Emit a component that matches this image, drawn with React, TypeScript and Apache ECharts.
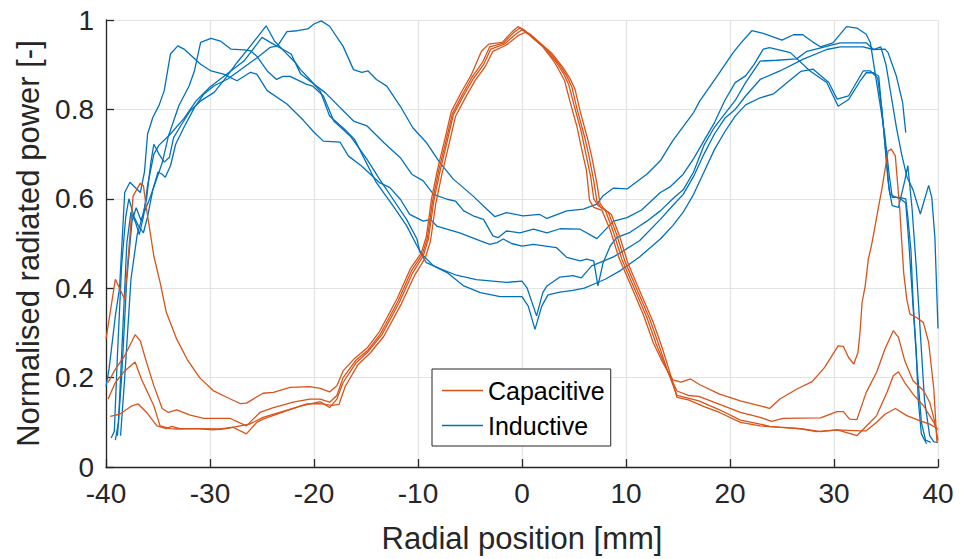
import React, { useEffect, useRef } from "react";
import * as echarts from "echarts";

type Pt = [number, number];

const LEGEND_NAMES = ["Capacitive", "Inductive"];
const X_MIN = -40;
const X_MAX = 40;
const X_STEP = 10;
const Y_MIN = 0;
const Y_MAX = 1;
const Y_STEP = 0.2;
const X_TITLE = "Radial position [mm]";
const Y_TITLE = "Normalised radiated power [-]";

// Inductive (blue) profiles: [radial position mm, normalised power]
const inductive1: Pt[] = [
  [-39.5,0.065],[-39.2,0.08],[-38.9,0.25],[-38.5,0.45],[-38.1,0.56],[-37.8,0.6],[-37.3,0.56],[-36.9,0.54],[-36.4,0.524],[-36,0.56],[-35.5,0.62],[-35,0.66],[-34.6,0.655],[-34.3,0.648],[-33.8,0.674],[-33.3,0.722],[-32.5,0.76],[-31.5,0.804],[-30.6,0.834],[-29.6,0.853],[-28.3,0.868],[-27,0.89],[-25.5,0.915],[-24.2,0.939],[-23.5,0.942],[-22.6,0.974],[-21.6,0.976],[-20.6,0.98],[-20,0.991],[-19.3,0.998],[-18.5,0.986],[-17.2,0.941],[-16.2,0.889],[-15.4,0.883],[-14.8,0.886],[-14,0.867],[-13,0.852],[-11.7,0.807],[-10.5,0.759],[-9.2,0.726],[-7.9,0.681],[-6.6,0.644],[-4.7,0.606],[-3.4,0.577],[-2.6,0.56],[-1.5,0.569],[0.1,0.562],[1.7,0.565],[2.4,0.556],[4.3,0.573],[5.9,0.577],[7.2,0.588],[7.8,0.607],[8.8,0.624],[10.1,0.622],[12,0.655],[13.3,0.685],[14.5,0.73],[16.5,0.793],[17.1,0.819],[18.7,0.872],[20.3,0.927],[21.1,0.95],[22.1,0.976],[23.2,0.97],[25,0.955],[26.1,0.967],[27,0.967],[28,0.95],[28.7,0.94],[29.9,0.949],[31.2,0.985],[32.2,0.982],[33.1,0.968],[33.5,0.949],[33.9,0.889],[34.4,0.816],[34.9,0.74],[35.3,0.655],[35.6,0.603],[36.3,0.603],[36.9,0.6],[37.1,0.559],[37.4,0.484],[37.6,0.372],[37.9,0.261],[38.1,0.15],[38.4,0.074],[38.9,0.052]
];
const inductive2: Pt[] = [
  [-39.1,0.06],[-38.8,0.1],[-38.4,0.3],[-38,0.5],[-37.6,0.57],[-37.2,0.55],[-36.8,0.52],[-36.4,0.56],[-36,0.63],[-35.4,0.7],[-34.9,0.72],[-33.8,0.745],[-32.5,0.78],[-31.3,0.82],[-30,0.85],[-28,0.886],[-26.7,0.909],[-25,0.961],[-24.2,0.95],[-22.2,0.924],[-21.3,0.88],[-18.9,0.837],[-16.2,0.774],[-14.9,0.763],[-13.3,0.726],[-11.7,0.692],[-10.6,0.655],[-9.5,0.64],[-8.5,0.61],[-7.2,0.599],[-6.4,0.595],[-5.6,0.573],[-4.7,0.562],[-3.7,0.554],[-2.8,0.517],[-2.3,0.513],[-1.5,0.528],[-0.2,0.524],[1.1,0.532],[2.4,0.524],[3.65,0.533],[5.6,0.532],[7.2,0.511],[8.8,0.55],[10.1,0.558],[11.5,0.575],[13.3,0.614],[14.2,0.626],[15.5,0.655],[16.5,0.69],[17.5,0.73],[18.5,0.77],[19.5,0.82],[20.5,0.86],[21.5,0.875],[22.3,0.9],[23.2,0.935],[23.8,0.938],[25.8,0.927],[27.7,0.886],[29.3,0.86],[30.4,0.807],[31.4,0.822],[32.5,0.863],[33.1,0.882],[33.8,0.882],[34.3,0.874],[34.6,0.8],[35,0.7],[35.3,0.62],[35.6,0.585],[36.2,0.581],[36.8,0.64],[37.1,0.674],[37.5,0.58],[37.9,0.45],[38.3,0.3],[38.7,0.15],[39.2,0.07],[39.6,0.056],[40,0.055]
];
const inductive3: Pt[] = [
  [-40,0.18],[-39.7,0.22],[-39.1,0.338],[-38.7,0.4],[-38.2,0.614],[-37.7,0.637],[-36.7,0.614],[-36.3,0.66],[-36,0.745],[-35.5,0.782],[-34.9,0.809],[-34.4,0.842],[-33.8,0.924],[-33.1,0.942],[-32.5,0.935],[-30.9,0.901],[-29.9,0.886],[-28.7,0.879],[-27.4,0.864],[-26.1,0.883],[-25.5,0.879],[-24.5,0.842],[-22.6,0.812],[-21,0.775],[-20,0.749],[-19.1,0.729],[-17.5,0.727],[-16.7,0.696],[-15.4,0.673],[-13.7,0.636],[-12.7,0.625],[-11.7,0.599],[-10.8,0.565],[-9.5,0.55],[-8.8,0.554],[-8.2,0.539],[-6,0.524],[-4,0.506],[-3.1,0.498],[-2.4,0.502],[-1.8,0.51],[-1,0.5],[0,0.494],[1.1,0.498],[3.3,0.491],[4.3,0.469],[5.6,0.461],[6.2,0.465],[6.9,0.461],[7.3,0.405],[7.8,0.457],[8.5,0.495],[9.1,0.513],[10.4,0.525],[11.3,0.539],[12,0.55],[13.3,0.573],[14.5,0.6],[15.5,0.62],[16.5,0.66],[17.5,0.72],[18.5,0.76],[19.5,0.79],[20.5,0.82],[21.5,0.86],[22.9,0.908],[24.5,0.91],[26.4,0.913],[27.4,0.93],[29.3,0.941],[30.6,0.949],[33.1,0.949],[33.8,0.934],[34.9,0.935],[35.2,0.927],[36,0.874],[36.6,0.815],[36.9,0.748]
];
const inductive4: Pt[] = [
  [-38.9,0.07],[-38.5,0.2],[-38,0.42],[-37.5,0.55],[-37.1,0.58],[-36.6,0.55],[-36.1,0.6],[-35.7,0.68],[-35.4,0.722],[-34.9,0.7],[-34.4,0.682],[-33.9,0.693],[-33.5,0.737],[-32.8,0.764],[-31.9,0.797],[-30.9,0.819],[-29.6,0.838],[-28.5,0.87],[-27.4,0.905],[-26.1,0.942],[-24.6,0.987],[-23.8,0.953],[-22.9,0.931],[-21.8,0.905],[-21.3,0.889],[-20.4,0.867],[-19.4,0.841],[-18.5,0.785],[-16.9,0.752],[-16.1,0.733],[-15.3,0.696],[-14,0.636],[-12.4,0.584],[-11.1,0.54],[-10.1,0.495],[-9.2,0.457],[-7.9,0.444],[-6.3,0.429],[-4.4,0.419],[-1.5,0.413],[0,0.416],[0.5,0.4],[1.4,0.338],[2,0.39],[2.4,0.405],[3.65,0.425],[4.9,0.428],[5.7,0.423],[6.7,0.45],[8.8,0.47],[11.3,0.506],[13.3,0.554],[14.5,0.585],[15.5,0.61],[16.5,0.65],[17.5,0.7],[18.5,0.745],[19.5,0.78],[20.5,0.8],[21.5,0.83],[22.9,0.867],[24.8,0.886],[27,0.912],[29.3,0.934],[30.6,0.94],[32.8,0.94],[33.8,0.934],[34.5,0.94],[35,0.9],[35.5,0.83],[36,0.76],[36.5,0.7],[37,0.65],[37.6,0.62],[38.3,0.566],[39.1,0.63],[39.4,0.603],[39.7,0.514],[40,0.31]
];
const inductive5: Pt[] = [
  [-38.6,0.07],[-38.2,0.2],[-37.6,0.42],[-37,0.52],[-36.5,0.56],[-35.8,0.6],[-35.2,0.64],[-34.6,0.68],[-34,0.74],[-33,0.808],[-32,0.853],[-31.5,0.886],[-30.9,0.95],[-29.9,0.959],[-29,0.953],[-28,0.935],[-26.7,0.933],[-26.1,0.931],[-25.5,0.919],[-24.5,0.886],[-23.6,0.867],[-23,0.874],[-22.3,0.874],[-21.7,0.867],[-20.7,0.856],[-20.1,0.852],[-19.1,0.83],[-18.1,0.774],[-16.5,0.74],[-14.9,0.688],[-13.7,0.644],[-12.4,0.599],[-11.1,0.554],[-10.1,0.51],[-9.8,0.48],[-8.5,0.45],[-7.2,0.435],[-5.6,0.405],[-4,0.39],[-2.1,0.381],[0,0.381],[0.6,0.36],[1.25,0.308],[1.9,0.36],[2.5,0.385],[3.65,0.391],[4.9,0.395],[6,0.4],[7,0.41],[8,0.42],[9.5,0.44],[11.3,0.47],[13.3,0.51],[14.5,0.54],[15.5,0.57],[16.5,0.61],[17.5,0.66],[18.5,0.71],[19.5,0.75],[20.5,0.785],[21.5,0.81],[22.9,0.826],[24.2,0.835],[25.5,0.86],[26.8,0.885],[28,0.89],[29.5,0.86],[30.3,0.823],[31.4,0.83],[32.8,0.886],[33.5,0.886],[34.2,0.87],[34.6,0.8],[34.9,0.72],[35.2,0.64],[35.4,0.61],[35.8,0.605],[36.4,0.6],[36.9,0.59],[37.2,0.5],[37.6,0.36],[38,0.22],[38.4,0.1],[38.8,0.06],[39.3,0.055]
];

// Capacitive (orange) profiles
const capacitive1: Pt[] = [
  [-40,0.286],[-39.1,0.42],[-38.7,0.4],[-38.2,0.375],[-37.7,0.517],[-37.4,0.606],[-36.7,0.635],[-36.4,0.629],[-36.1,0.577],[-35.4,0.472],[-34.8,0.413],[-34.2,0.346],[-33.2,0.286],[-32.2,0.241],[-31,0.2],[-29.7,0.171],[-28.4,0.156],[-27.1,0.142],[-26.5,0.143],[-24.9,0.165],[-23.9,0.167],[-22.3,0.178],[-20.4,0.18],[-19.4,0.176],[-18.5,0.168],[-17.8,0.182],[-17.2,0.215],[-16.1,0.243],[-14.9,0.266],[-13.7,0.303],[-12,0.377],[-10.7,0.445],[-9.7,0.478],[-9.2,0.515],[-8.7,0.6],[-8.1,0.668],[-7.4,0.735],[-6.8,0.795],[-5.8,0.84],[-4.9,0.876],[-3.9,0.93],[-3.2,0.946],[-1.9,0.95],[-0.9,0.975],[-0.4,0.985],[0.2,0.978],[1,0.96],[2,0.94],[3,0.91],[3.6,0.886],[4.1,0.864],[4.6,0.819],[5.3,0.76],[5.7,0.715],[6.2,0.663],[6.5,0.596],[6.9,0.581],[7.7,0.574],[8.5,0.529],[9.3,0.469],[10.4,0.41],[11.7,0.339],[12.6,0.279],[13.5,0.235],[14.5,0.195],[15.3,0.19],[16.2,0.197],[17.1,0.184],[19,0.163],[21,0.148],[22.9,0.137],[23.8,0.131],[24.8,0.152],[26.4,0.174],[27.9,0.191],[29.1,0.223],[30.4,0.271],[30.9,0.27],[31.4,0.245],[31.9,0.23],[32.3,0.256],[32.5,0.301],[32.7,0.368],[33,0.405],[33.3,0.465],[33.6,0.495],[33.9,0.532],[34.3,0.584],[34.6,0.621],[35.2,0.707],[35.5,0.711],[35.9,0.696],[36,0.666],[36.3,0.584],[36.7,0.435],[37,0.375],[37.3,0.342],[37.9,0.335],[38.6,0.323],[39.1,0.279],[39.6,0.174],[39.9,0.055]
];
const capacitive2: Pt[] = [
  [-39.8,0.189],[-39.1,0.219],[-38.2,0.249],[-37.2,0.296],[-36.7,0.282],[-36.1,0.234],[-35.4,0.182],[-34.6,0.131],[-34,0.122],[-33.2,0.128],[-31.9,0.116],[-30.6,0.109],[-28.1,0.109],[-26.5,0.092],[-25.2,0.122],[-23.9,0.133],[-22,0.145],[-20.4,0.152],[-19.4,0.152],[-18.5,0.145],[-17.8,0.16],[-17.2,0.2],[-16,0.238],[-14.8,0.262],[-13.6,0.298],[-11.9,0.372],[-10.6,0.44],[-9.6,0.475],[-9.1,0.512],[-8.6,0.595],[-8,0.664],[-7.3,0.73],[-6.7,0.79],[-5.7,0.835],[-4.8,0.872],[-3.8,0.905],[-3.1,0.94],[-1.8,0.948],[-0.8,0.972],[-0.2,0.982],[0.5,0.972],[1.3,0.955],[2.3,0.935],[3.3,0.905],[4,0.88],[4.5,0.855],[5,0.81],[5.7,0.75],[6.1,0.705],[6.6,0.65],[6.9,0.6],[7.3,0.585],[8,0.575],[8.8,0.525],[9.6,0.465],[10.7,0.405],[12,0.335],[12.9,0.275],[13.8,0.225],[14.9,0.17],[16,0.16],[17,0.158],[19,0.14],[21,0.122],[22.9,0.111],[24,0.102],[25.1,0.109],[28.7,0.11],[30.3,0.124],[30.9,0.124],[31.5,0.107],[32.2,0.106],[33.1,0.167],[34.1,0.212],[34.9,0.264],[35.7,0.305],[36.2,0.29],[36.8,0.238],[37.6,0.193],[38.6,0.171],[39.2,0.145],[39.7,0.1],[40,0.059]
];
const capacitive3: Pt[] = [
  [-39.8,0.152],[-39.1,0.189],[-38.2,0.215],[-37.2,0.235],[-36.6,0.197],[-35.4,0.137],[-34.8,0.092],[-33.8,0.086],[-33.2,0.085],[-31.3,0.086],[-29.7,0.083],[-28.4,0.086],[-27.1,0.092],[-26.2,0.096],[-24.9,0.111],[-23.3,0.122],[-21.3,0.136],[-19.4,0.146],[-18.5,0.133],[-17.8,0.152],[-17.2,0.189],[-16,0.232],[-14.8,0.258],[-13.5,0.295],[-11.8,0.368],[-10.5,0.435],[-9.5,0.472],[-9,0.51],[-8.5,0.592],[-7.9,0.66],[-7.2,0.728],[-6.6,0.788],[-5.6,0.832],[-4.7,0.868],[-3.7,0.9],[-3,0.935],[-1.7,0.946],[-0.6,0.968],[0,0.978],[0.8,0.968],[1.6,0.95],[2.6,0.93],[3.6,0.9],[4.3,0.875],[4.8,0.85],[5.3,0.8],[6,0.74],[6.4,0.7],[6.9,0.64],[7.2,0.595],[7.6,0.58],[8.3,0.57],[9.1,0.52],[9.9,0.46],[11,0.4],[12.3,0.33],[13.2,0.27],[14,0.215],[14.9,0.16],[15.5,0.157],[17,0.148],[19,0.128],[21,0.105],[22.9,0.096],[23.8,0.091],[24.8,0.089],[27,0.085],[28.7,0.079],[30.3,0.083],[31.4,0.076],[32.2,0.07],[33.1,0.091],[34.1,0.115],[35.1,0.167],[35.7,0.204],[36.2,0.213],[36.8,0.189],[37.6,0.163],[38.6,0.137],[39.6,0.1],[39.9,0.081]
];
const capacitive4: Pt[] = [
  [-39.6,0.113],[-38.7,0.118],[-37.5,0.137],[-36.9,0.141],[-36.1,0.122],[-35.1,0.092],[-34.2,0.086],[-33.7,0.091],[-32.9,0.086],[-31,0.086],[-29,0.085],[-27.8,0.089],[-26.5,0.074],[-25.5,0.1],[-24.9,0.107],[-22.6,0.126],[-20.7,0.141],[-19.4,0.142],[-18.3,0.138],[-17.6,0.14],[-17,0.18],[-15.8,0.228],[-14.6,0.255],[-13.3,0.292],[-11.6,0.365],[-10.3,0.43],[-9.3,0.468],[-8.8,0.505],[-8.3,0.588],[-7.7,0.655],[-7,0.724],[-6.4,0.784],[-5.4,0.828],[-4.5,0.865],[-3.5,0.897],[-2.8,0.93],[-1.5,0.944],[-0.4,0.965],[0.3,0.972],[1.1,0.962],[1.9,0.945],[2.9,0.925],[3.9,0.895],[4.6,0.87],[5.1,0.845],[5.6,0.795],[6.3,0.735],[6.7,0.695],[7.2,0.635],[7.5,0.59],[7.9,0.577],[8.6,0.565],[9.4,0.515],[10.2,0.455],[11.3,0.395],[12.6,0.325],[13.5,0.265],[14.3,0.205],[14.9,0.156],[16,0.15],[17.5,0.135],[19,0.122],[21,0.1],[22.9,0.092],[24.5,0.089],[26.7,0.086],[28.3,0.079],[30.3,0.083],[32.5,0.081],[33.1,0.081],[34.1,0.1],[34.9,0.118],[35.9,0.131],[37,0.115],[38.3,0.103],[39.2,0.096],[40,0.085]
];

const INDUCTIVE = [inductive1, inductive2, inductive3, inductive4, inductive5];
const CAPACITIVE = [capacitive1, capacitive2, capacitive3, capacitive4];

const BLUE = "#0072BD";
const ORANGE = "#D95319";
const AXIS = "#262626";
const GRID = "#e3e3e3";
const FONT = "'Liberation Sans', Arial, Helvetica, sans-serif";

export default function App() {
  const ref = useRef<HTMLDivElement>(null);

  useEffect(() => {
    if (!ref.current) return;
    document.body.style.margin = "0";
    const chart = echarts.init(ref.current, null, { renderer: "svg" });

    const mk = (name: string, color: string, data: Pt[]) => ({
      name,
      type: "line",
      data,
      symbol: "none",
      showSymbol: false,
      silent: true,
      lineStyle: { color, width: 1.3 },
      itemStyle: { color },
      emphasis: { disabled: true },
    });

    const series = [
      ...INDUCTIVE.map((d) => mk(LEGEND_NAMES[1], BLUE, d)),
      ...CAPACITIVE.map((d) => mk(LEGEND_NAMES[0], ORANGE, d)),
    ];

    chart.setOption({
      animation: false,
      backgroundColor: "#ffffff",
      textStyle: { fontFamily: FONT },
      grid: { left: 106, right: 24, top: 20, bottom: 91, containLabel: false },
      xAxis: {
        type: "value",
        min: X_MIN,
        max: X_MAX,
        interval: X_STEP,
        name: X_TITLE,
        nameLocation: "middle",
        nameGap: 56,
        nameTextStyle: { fontSize: 31, color: AXIS, fontFamily: FONT },
        axisLine: { show: true, onZero: false, lineStyle: { color: AXIS, width: 1.3 } },
        axisTick: { show: true, inside: true, length: 8, lineStyle: { color: AXIS, width: 1.3 } },
        axisLabel: { fontSize: 28, color: AXIS, margin: 12, fontFamily: FONT },
        splitLine: { show: true, lineStyle: { color: GRID, width: 1.2 } },
      },
      yAxis: {
        type: "value",
        min: Y_MIN,
        max: Y_MAX,
        interval: Y_STEP,
        name: Y_TITLE,
        nameLocation: "middle",
        nameGap: 60,
        nameTextStyle: { fontSize: 31, color: AXIS, fontFamily: FONT },
        axisLine: { show: true, onZero: false, lineStyle: { color: AXIS, width: 1.3 } },
        axisTick: { show: true, inside: true, length: 8, lineStyle: { color: AXIS, width: 1.3 } },
        axisLabel: { fontSize: 28, color: AXIS, margin: 12, fontFamily: FONT },
        splitLine: { show: true, lineStyle: { color: GRID, width: 1.2 } },
      },
      legend: {
        data: LEGEND_NAMES,
        orient: "vertical",
        left: 432,
        top: 369,
        icon: "rect",
        itemWidth: 41,
        itemHeight: 1.3,
        itemGap: 10,
        padding: [9, 6, 8, 10],
        borderColor: AXIS,
        borderWidth: 1,
        borderRadius: 0,
        backgroundColor: "#ffffff",
        selectedMode: false,
        textStyle: { fontSize: 25, lineHeight: 25, color: "#000000", fontFamily: FONT },
      },
      tooltip: { show: false },
      series,
    });

    return () => chart.dispose();
  }, []);

  return (
    <div style={{ position: "fixed", left: 0, top: 0, width: 962, height: 559, background: "#fff" }}>
      <div ref={ref} style={{ width: 962, height: 559 }} />
    </div>
  );
}
